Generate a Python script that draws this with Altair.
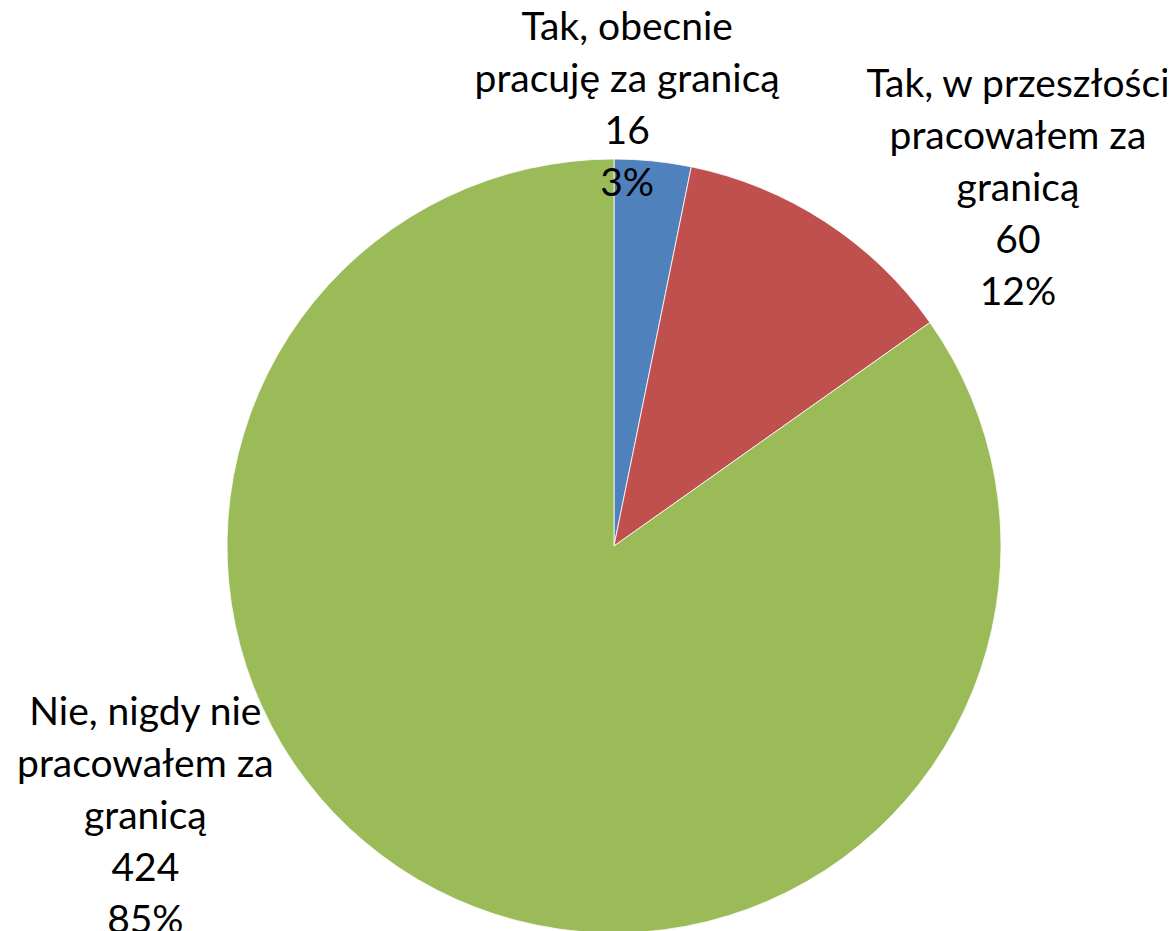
import math
import altair as alt
import pandas as pd

categories = [
    "Tak, obecnie pracuję za granicą",
    "Tak, w przeszłości pracowałem za granicą",
    "Nie, nigdy nie pracowałem za granicą",
]
label_text = [
    "Tak, obecnie\npracuję za granicą",
    "Tak, w przeszłości\npracowałem za\ngranicą",
    "Nie, nigdy nie\npracowałem za\ngranicą",
]
values = [16, 60, 424]
percents = ["3%", "12%", "85%"]
colors = ["#4F81BD", "#C0504D", "#9BBB59"]

df = pd.DataFrame({
    "idx": list(range(len(categories))),
    "category": categories,
    "value": values,
    "label": [f"{t}\n{v}\n{p}" for t, v, p in zip(label_text, values, percents)],
})

color = alt.Color("category:N", scale=alt.Scale(domain=categories, range=colors), legend=None)

pie = alt.Chart(df).mark_arc(outerRadius=387, stroke="#ffffff", strokeWidth=0.8).encode(
    theta=alt.Theta("value:Q", stack=True),
    order=alt.Order("idx:Q"),
    color=color,
)

base_text = alt.Chart(df).transform_window(
    cum="sum(value)", sort=[alt.SortField("idx")], frame=[None, 0]
).transform_joinaggregate(
    total="sum(value)"
).transform_calculate(
    mid="(datum.cum - datum.value / 2) / datum.total"
)

line_h = 52
offsets = [(-30, -12 - 3 * line_h / 2), (169, 3 - 4 * line_h / 2), (-271, -111 - 4 * line_h / 2)]
layers = [pie]
for i, (dx, dy) in enumerate(offsets):
    layers.append(
        base_text.transform_filter(alt.datum.idx == i).mark_text(
            radius=430, dx=dx, dy=dy, lineBreak="\n", lineHeight=line_h,
            font="Lato", fontSize=39, color="#000000",
            align="center", baseline="middle",
        ).encode(
            theta=alt.Theta("mid:Q", scale=alt.Scale(domain=[0, 1], range=[0, 2 * math.pi]), stack=None),
            text="label:N",
        )
    )

chart = alt.layer(*layers).resolve_scale(theta="independent").properties(
    width=1106, height=772,
    autosize=alt.AutoSizeParams(type="none"),
    padding={"left": 53, "top": 152, "right": 0, "bottom": 0},
    background="#ffffff",
).configure_view(stroke=None)

chart.save("out.html", embed_options={"renderer": "svg", "actions": False})
